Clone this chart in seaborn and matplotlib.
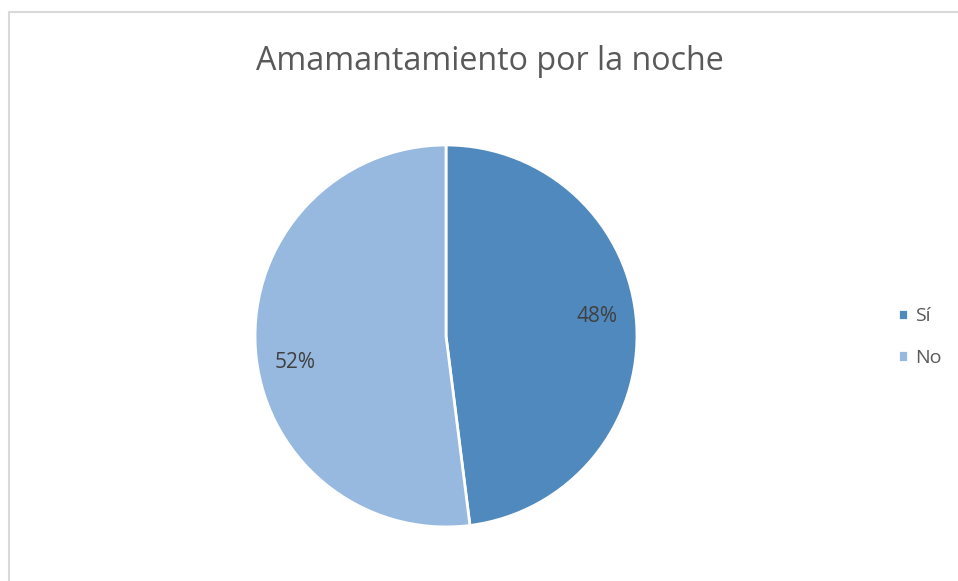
import numpy as np
import matplotlib
matplotlib.use("Agg")
import matplotlib.pyplot as plt
import seaborn as sns
from matplotlib.lines import Line2D

categories = ["Sí", "No"]
values = [48, 52]
colors = ["#4F89BD", "#97B9E0"]
title = "Amamantamiento por la noche"

sns.set_theme(style="white")
plt.rcParams["font.family"] = ["Open Sans", "DejaVu Sans"]

fig = plt.figure(figsize=(9.58, 5.81), dpi=100)
fig.patch.set_facecolor("white")

ax = fig.add_axes([0.2662, 0.0930, 0.3987, 0.6575])
wedges, _ = ax.pie(values, colors=colors, startangle=90, counterclock=False,
                   radius=1.0,
                   wedgeprops=dict(edgecolor="white", linewidth=2.0))
ax.set_xlim(-1, 1)
ax.set_ylim(-1, 1)
ax.set_aspect("equal")
ax.axis("off")

# percentage labels
for w, v in zip(wedges, values):
    ang = np.deg2rad((w.theta1 + w.theta2) / 2 + 5)
    ax.text(0.80 * np.cos(ang), 0.80 * np.sin(ang) - 0.017, f"{v}%",
            ha="center", va="center", fontsize=15, color="#404040")

fig.text(0.511, 0.895, title, ha="center", va="center",
         fontsize=23.2, color="#595959")

leg = fig.legend(wedges, categories, loc="center left",
                 bbox_to_anchor=(0.937, 0.420), frameon=False,
                 fontsize=14, handlelength=0.55, handleheight=0.55,
                 handletextpad=0.35, labelspacing=1.2, borderpad=0,
                 borderaxespad=0)
for t in leg.get_texts():
    t.set_color("#595959")

# chart-area border (top and left visible)
fig.add_artist(Line2D([0.0089, 1.0], [0.980, 0.980], transform=fig.transFigure,
                      color="#D9D9D9", linewidth=1.5))
fig.add_artist(Line2D([0.0089, 0.0089], [0.0, 0.980], transform=fig.transFigure,
                      color="#D9D9D9", linewidth=1.5))

fig.savefig("out.png", dpi=100, facecolor="white")
